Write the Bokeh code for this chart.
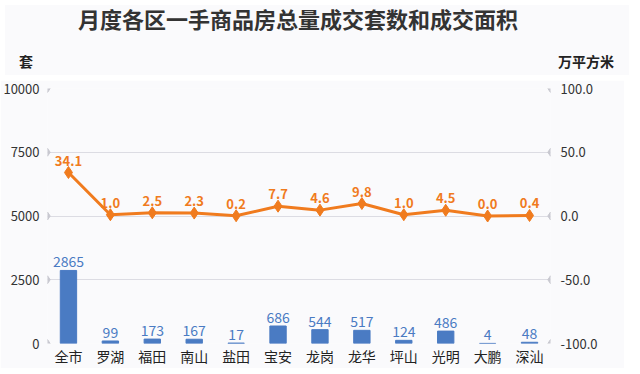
from bokeh.plotting import figure
from bokeh.models import Range1d, LinearAxis, FixedTicker, PrintfTickFormatter, ColumnDataSource, FactorRange, Div
from bokeh.layouts import column
from bokeh.core.properties import value
from bokeh.embed import file_html
from bokeh.resources import INLINE

districts = ["全市", "罗湖", "福田", "南山", "盐田", "宝安", "龙岗", "龙华", "坪山", "光明", "大鹏", "深汕"]
units_sold = [2865, 99, 173, 167, 17, 686, 544, 517, 124, 486, 4, 48]
area_sold = [34.1, 1.0, 2.5, 2.3, 0.2, 7.7, 4.6, 9.8, 1.0, 4.5, 0.0, 0.4]
left_ticks = [0, 2500, 5000, 7500, 10000]
right_ticks = [-100, -50, 0, 50, 100]
title_text = "月度各区一手商品房总量成交套数和成交面积"
left_unit = "套"
right_unit = "万平方米"

FONT = "Noto Sans CJK SC"
BG = "#FAFAFC"
BLUE = "#4A7BC3"
ORANGE = "#F07B1E"
GRID = "#DCDCE3"
W = 624
HEAD_H = 70
FIG_H = 358 - HEAD_H

header_html = (
    f'<div style="position:relative;width:{W}px;height:{HEAD_H}px;background:{BG};'
    f'font-family:\'{FONT}\';">'
    f'<div style="position:absolute;left:0;top:0;width:586px;text-align:center;font-size:22px;'
    f'font-weight:bold;color:#333333;line-height:26px;white-space:nowrap;">{title_text}</div>'
    f'<div style="position:absolute;left:2px;top:47px;width:38px;text-align:center;font-size:14px;'
    f'font-weight:bold;color:#222222;line-height:18px;">{left_unit}</div>'
    f'<div style="position:absolute;left:553px;top:47px;font-size:14px;font-weight:bold;'
    f'color:#222222;line-height:18px;white-space:nowrap;">{right_unit}</div>'
    '</div>'
)
header = Div(text=header_html, width=W, height=HEAD_H)

p = figure(x_range=FactorRange(factors=districts), y_range=Range1d(0, 10000),
           width=W, height=FIG_H, output_backend="svg", toolbar_location=None,
           min_border_left=44, min_border_right=74, min_border_top=8, min_border_bottom=14,
           background_fill_color=BG, border_fill_color=BG, outline_line_color=None)
p.extra_y_ranges = {"area": Range1d(-100, 100)}


def style_axis(a, standoff, size):
    a.axis_line_color = None
    a.major_tick_line_color = None
    a.minor_tick_line_color = None
    a.major_tick_out = 0
    a.major_tick_in = 0
    a.minor_tick_out = 0
    a.minor_tick_in = 0
    a.major_label_standoff = standoff
    a.major_label_text_font = FONT
    a.major_label_text_font_size = size


p.yaxis.ticker = FixedTicker(ticks=left_ticks)
style_axis(p.yaxis[0], 8, "13px")
p.yaxis[0].major_label_text_color = "#333333"

ra = LinearAxis(y_range_name="area", ticker=FixedTicker(ticks=right_ticks),
                formatter=PrintfTickFormatter(format="%.1f"))
style_axis(ra, 10, "13px")
ra.major_label_text_color = "#333333"
p.add_layout(ra, "right")

style_axis(p.xaxis[0], 2, "14px")
p.xaxis[0].major_label_text_color = "#222222"

p.xgrid.grid_line_color = None
p.ygrid.ticker = FixedTicker(ticks=left_ticks)
p.ygrid.grid_line_color = GRID
p.ygrid.grid_line_width = 1.2

# diamonds at gridline ends
p.scatter(x=[(districts[0], -0.5)] * len(left_ticks), y=left_ticks, marker="diamond",
          size=8, color="#C8C8D0")
p.scatter(x=[(districts[-1], 0.5)] * len(left_ticks), y=left_ticks, marker="diamond",
          size=8, color="#C8C8D0")

src = ColumnDataSource(dict(d=districts, u=units_sold, a=area_sold,
                            ul=[str(v) for v in units_sold],
                            al=["%.1f" % v for v in area_sold]))

p.vbar(x="d", top="u", width=0.39, source=src, color=BLUE)
p.text(x="d", y="u", text="ul", source=src, text_align="center", text_baseline="bottom",
       y_offset=-3, text_font=value(FONT), text_font_size="14px", text_color=BLUE)

p.line(x="d", y="a", source=src, y_range_name="area", line_width=3, color=ORANGE)
p.scatter(x="d", y="a", source=src, y_range_name="area", marker="diamond", size=12, color=ORANGE)
p.text(x="d", y="a", text="al", source=src, y_range_name="area", text_align="center",
       text_baseline="bottom", y_offset=-7, text_font=value(FONT), text_font_size="13px",
       text_font_style="bold", text_color=ORANGE)

layout = column(header, p, spacing=0)
open("out.html", "w").write(file_html(layout, INLINE))
